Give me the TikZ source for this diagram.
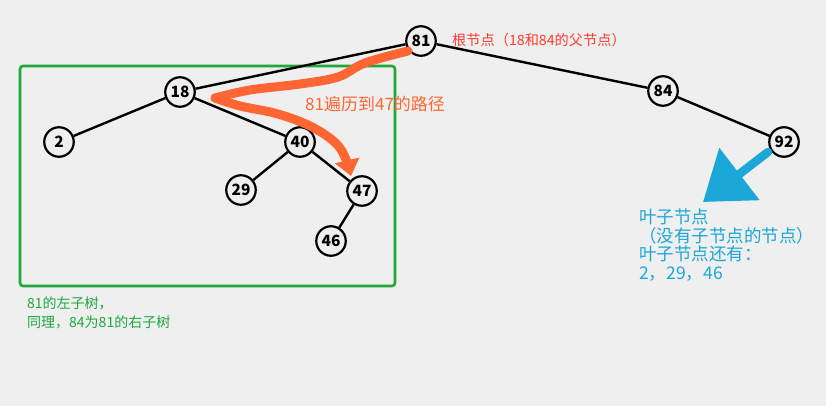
\documentclass[tikz,border=0pt]{standalone}
\usepackage{fontspec}
\newfontfamily\cjk{Noto Sans CJK SC}
\usetikzlibrary{arrows.meta}
\definecolor{bg}{HTML}{EFEFEF}
\definecolor{pathorange}{HTML}{FF6633}
\definecolor{rootred}{HTML}{FF3B30}
\definecolor{leafblue}{HTML}{1BA8D8}
\definecolor{treegreen}{HTML}{1EA83C}
\tikzset{
  tnode/.style={circle, draw=black, line width=2.2pt, fill=bg, minimum size=29.5pt, inner sep=0pt, font=\cjk\fontsize{15.5}{15.5}\selectfont\bfseries},
  edge/.style={draw=black, line width=2.4pt},
  note/.style={anchor=west, inner sep=0pt, align=left}
}
\begin{document}
\begin{tikzpicture}[x=1pt, y=-1pt]
\fill[bg] (0,0) rectangle (826,406);
\useasboundingbox (0,0) rectangle (826,406);

% green box
\draw[treegreen, line width=2.6pt, rounded corners=3pt] (20,66) rectangle (395,286);

% nodes
\node[tnode] (n81) at (421,41) {81};
\node[tnode] (n18) at (180,92) {18};
\node[tnode] (n84) at (663,91) {84};
\node[tnode] (n92) at (784,142) {92};
\node[tnode] (n2) at (59,142) {2};
\node[tnode] (n40) at (300,142) {40};
\node[tnode] (n29) at (241,190) {29};
\node[tnode] (n47) at (362,191) {47};
\node[tnode] (n46) at (331,241) {46};

% edges
\draw[edge] (n81) -- (n18);
\draw[edge] (n81) -- (n84);
\draw[edge] (n84) -- (n92);
\draw[edge] (n18) -- (n2);
\draw[edge] (n18) -- (n40);
\draw[edge] (n40) -- (n29);
\draw[edge] (n40) -- (n47);
\draw[edge] (n47) -- (n46);

% orange traversal path
\draw[pathorange, line width=9pt, line cap=round, line join=round]
  plot[smooth, tension=0.6] coordinates {(408,51) (365,63) (338,77) (300,84) (250,90) (215,98)};
\draw[pathorange, line width=9pt, line cap=round, line join=round, -{Triangle[length=16pt,width=24pt]}]
  plot[smooth, tension=0.6] coordinates {(215,98) (240,106) (278,114) (314,128) (340,148) (351,176)};

\node[note, text=pathorange, font=\cjk\fontsize{17}{17}\selectfont] (lblpath) at (305,104) {81遍历到47的路径};
\node[note, text=rootred, font=\cjk\fontsize{14.2}{14.2}\selectfont] (lblroot) at (452,40) {根节点（18和84的父节点）};

% blue arrow
\coordinate (bstart) at (768,152);
\draw[leafblue, line width=8.5pt, line cap=round, -{Triangle[length=46pt,width=64pt]}] (bstart) -- (703,202);

\node[note, anchor=north west, text=leafblue, font=\cjk\fontsize{17.5}{18.5}\selectfont] (lblleaf) at (639,209)
  {叶子节点\\（没有子节点的节点）\\叶子节点还有：\\2，29，46};

\node[note, anchor=north west, text=treegreen, font=\cjk\fontsize{14}{19}\selectfont] (lblsub) at (27,296)
  {81的左子树，\\同理，84为81的右子树};
\end{tikzpicture}
\end{document}
